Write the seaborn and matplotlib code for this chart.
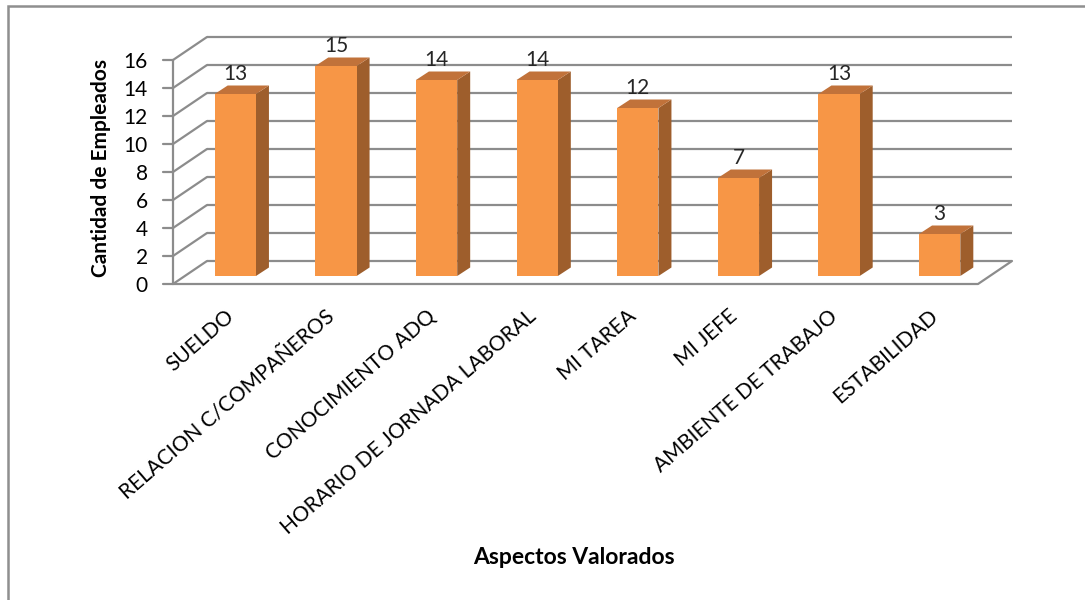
import matplotlib
matplotlib.use("Agg")
import matplotlib.pyplot as plt
import matplotlib.transforms as mtransforms
from matplotlib.patches import Polygon, Rectangle
import pandas as pd
import seaborn as sns

# Data
categorias = [
    "SUELDO",
    "RELACION C/COMPAÑEROS",
    "CONOCIMIENTO ADQ",
    "HORARIO DE JORNADA LABORAL",
    "MI TAREA",
    "MI JEFE",
    "AMBIENTE DE TRABAJO",
    "ESTABILIDAD",
]
empleados = [13, 15, 14, 14, 12, 7, 13, 3]
ticks_y = [0, 2, 4, 6, 8, 10, 12, 14, 16]
titulo_x = "Aspectos Valorados"
titulo_y = "Cantidad de Empleados"

sns.set_style("white")
plt.rcParams["font.family"] = ["Lato", "DejaVu Sans"]

W, H, DPI = 1085, 600, 100
fig = plt.figure(figsize=(W / DPI, H / DPI), dpi=DPI)

# Axes placed on the plane of the bar fronts (pixel geometry of the frame)
AX_L, AX_R, AX_B, AX_T = 185, 990, 276, 52
ax = fig.add_axes([AX_L / W, 1 - AX_B / H, (AX_R - AX_L) / W, (AX_B - AX_T) / H])
ax.set_xlim(-0.5, len(categorias) - 0.5)
ax.set_ylim(0, 16)

KX = len(categorias) / (AX_R - AX_L)   # x data units per pixel
KY = 16 / (AX_B - AX_T)                # y data units per pixel

# Oblique depth: front plane and back wall offsets relative to the bar plane (pixels)
FRONT = (-12, -8)
BACK = (22, 15)


def proj(x, y, off):
    return x + off[0] * KX, y + off[1] * KY


GRID = "#8c8c8c"
LW = 1.6
x0, x1 = -0.5, len(categorias) - 0.5

# Back wall gridlines and left wall diagonals
for v in ticks_y:
    bx0, by = proj(x0, v, BACK)
    bx1, _ = proj(x1, v, BACK)
    ax.plot([bx0, bx1], [by, by], color=GRID, lw=LW, clip_on=False, zorder=0.5,
            solid_capstyle="butt")
    fx, fy = proj(x0, v, FRONT)
    ax.plot([fx, bx0], [fy, by], color=GRID, lw=LW, clip_on=False, zorder=0.5)
    # tick mark on the front axis
    ax.plot([fx - 10 * KX, fx], [fy, fy], color=GRID, lw=LW, clip_on=False, zorder=0.5)

# Front vertical axis
fx, fy0 = proj(x0, 0, FRONT)
_, fy1 = proj(x0, 16, FRONT)
ax.plot([fx, fx], [fy0, fy1], color=GRID, lw=LW, clip_on=False, zorder=0.6)

# Floor: front edge and right edge
fxr, fyr = proj(x1, 0, FRONT)
bxr, byr = proj(x1, 0, BACK)
ax.plot([fx, fxr, bxr], [fy0, fyr, byr], color=GRID, lw=LW, clip_on=False, zorder=0.6)

# Bars
df = pd.DataFrame({"aspecto": categorias, "cantidad": empleados})
C_FRONT, C_SIDE, C_TOP = "#F79646", "#9E5E2C", "#C1723A"
sns.barplot(data=df, x="aspecto", y="cantidad", color=C_FRONT, saturation=1,
            width=0.41, errorbar=None, ax=ax, zorder=2, linewidth=0)

DDX, DDY = 13 * KX, 8.5 * KY
for p in ax.patches:
    bx, bw, bh = p.get_x(), p.get_width(), p.get_height()
    side = Polygon([(bx + bw, 0), (bx + bw + DDX, DDY), (bx + bw + DDX, bh + DDY), (bx + bw, bh)],
                   closed=True, fc=C_SIDE, ec="none", zorder=1.9, clip_on=False)
    top = Polygon([(bx, bh), (bx + DDX, bh + DDY), (bx + bw + DDX, bh + DDY), (bx + bw, bh)],
                  closed=True, fc=C_TOP, ec="none", zorder=1.9, clip_on=False)
    ax.add_patch(side)
    ax.add_patch(top)

# Value labels
for i, v in enumerate(empleados):
    ax.annotate(f"{v}", xy=(i, v), xytext=(0, 10), textcoords="offset points",
                ha="center", va="baseline", fontsize=15, color="#262626",
                annotation_clip=False)

for s in ax.spines.values():
    s.set_visible(False)

# Y ticks on the front plane
ax.set_yticks(ticks_y)
ax.set_yticklabels([str(t) for t in ticks_y], fontsize=15, color="#000000")
ax.tick_params(axis="y", length=0, pad=18)
off_y = mtransforms.ScaledTranslation(FRONT[0] / DPI, FRONT[1] / DPI, fig.dpi_scale_trans)
for lab in ax.get_yticklabels():
    lab.set_transform(lab.get_transform() + off_y)

# X category labels
ax.set_xticks(range(len(categorias)))
ax.set_xticklabels(categorias, rotation=41, ha="right", va="center",
                   rotation_mode="anchor", fontsize=15, color="#000000")
ax.tick_params(axis="x", length=0, pad=27)
off_x = mtransforms.ScaledTranslation(-4 / DPI, 0, fig.dpi_scale_trans)
for lab in ax.get_xticklabels():
    lab.set_transform(lab.get_transform() + off_x)

# Axis titles
ax.set_xlabel(titulo_x, fontsize=16.5, fontweight="bold", color="#000000")
ax.xaxis.set_label_coords((574 - AX_L) / (AX_R - AX_L), (AX_B - 547) / (AX_B - AX_T))
ax.set_ylabel(titulo_y, fontsize=15, fontweight="bold", color="#000000")
ax.yaxis.set_label_coords((111 - AX_L) / (AX_R - AX_L), (AX_B - 168) / (AX_B - AX_T))

ax.grid(False)
ax.set_facecolor("none")

# Chart frame
fig.patches.append(Rectangle((8 / W, -0.1), 1.2, 1 - 6 / H + 0.1, transform=fig.transFigure,
                             fill=False, ec="#8f8f8f", lw=1.8))

fig.savefig("out.png", dpi=DPI, facecolor="white")
